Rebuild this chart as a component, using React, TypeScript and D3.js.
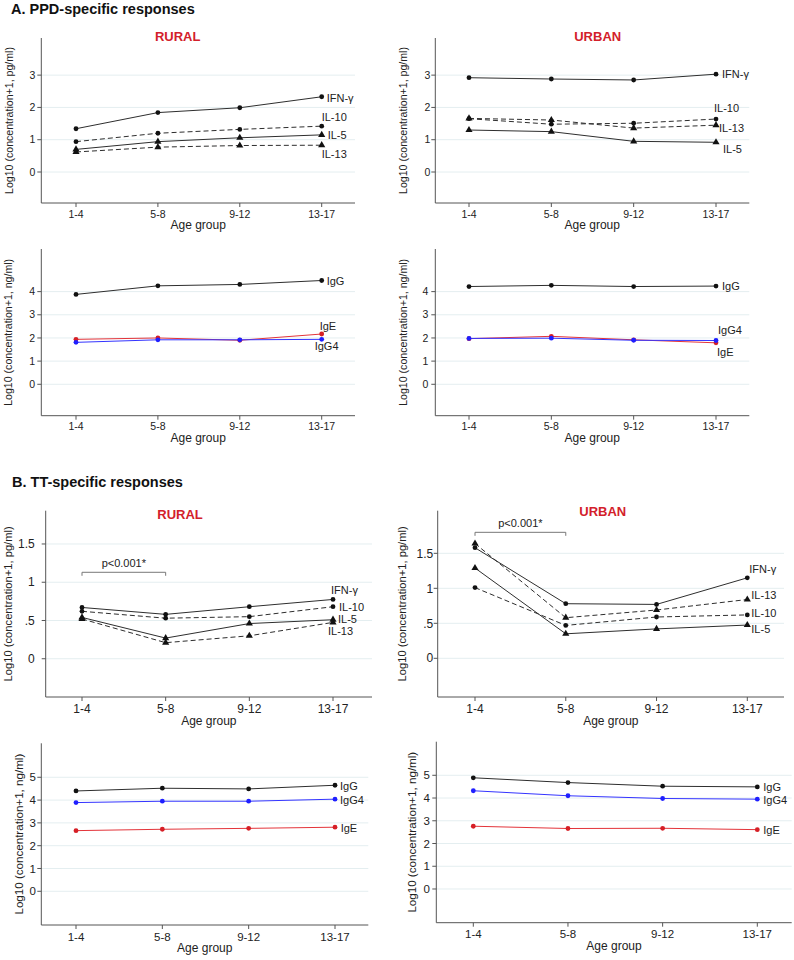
import React from "react";
import * as d3 from "d3";

const ageGroups = ["1-4", "5-8", "9-12", "13-17"];

// A. PPD-specific, rural, cytokines (log10 pg/ml)
const ppdRuralIFNg = [1.34, 1.84, 1.99, 2.33];
const ppdRuralIL10 = [0.94, 1.2, 1.32, 1.42];
const ppdRuralIL5 = [0.7, 0.94, 1.06, 1.15];
const ppdRuralIL13 = [0.62, 0.77, 0.82, 0.83];

// A. PPD-specific, urban, cytokines
const ppdUrbanIFNg = [2.92, 2.88, 2.85, 3.03];
const ppdUrbanIL10 = [1.65, 1.48, 1.51, 1.64];
const ppdUrbanIL13 = [1.66, 1.61, 1.36, 1.45];
const ppdUrbanIL5 = [1.3, 1.25, 0.95, 0.92];

// A. PPD-specific, rural, antibodies (log10 ng/ml)
const ppdRuralIgG = [3.88, 4.25, 4.31, 4.48];
const ppdRuralIgE = [1.94, 2.0, 1.9, 2.17];
const ppdRuralIgG4 = [1.81, 1.92, 1.92, 1.94];

// A. PPD-specific, urban, antibodies
const ppdUrbanIgG = [4.22, 4.27, 4.22, 4.24];
const ppdUrbanIgE = [1.97, 2.07, 1.92, 1.79];
const ppdUrbanIgG4 = [1.98, 1.99, 1.9, 1.89];

// B. TT-specific, rural, cytokines
const ttRuralIFNg = [0.67, 0.58, 0.68, 0.775];
const ttRuralIL10 = [0.62, 0.53, 0.55, 0.68];
const ttRuralIL5 = [0.54, 0.27, 0.46, 0.51];
const ttRuralIL13 = [0.52, 0.21, 0.3, 0.475];

// B. TT-specific, urban, cytokines
const ttUrbanIFNg = [1.58, 0.78, 0.77, 1.15];
const ttUrbanIL13 = [1.64, 0.58, 0.69, 0.84];
const ttUrbanIL10 = [1.01, 0.47, 0.59, 0.62];
const ttUrbanIL5 = [1.29, 0.35, 0.42, 0.475];

// B. TT-specific, rural, antibodies
const ttRuralIgG = [4.4, 4.52, 4.49, 4.65];
const ttRuralIgG4 = [3.89, 3.95, 3.95, 4.04];
const ttRuralIgE = [2.66, 2.72, 2.76, 2.81];

// B. TT-specific, urban, antibodies
const ttUrbanIgG = [4.89, 4.68, 4.52, 4.49];
const ttUrbanIgG4 = [4.32, 4.1, 3.98, 3.95];
const ttUrbanIgE = [2.76, 2.66, 2.67, 2.61];

// Axis ticks
const ticksPPDCyto = [0, 1, 2, 3];
const ticksPPDIg = [0, 1, 2, 3, 4];
const ticksTTCyto = [0, 0.5, 1, 1.5];
const tickLabelsTTCyto = ["0", ".5", "1", "1.5"];
const ticksTTIg = [0, 1, 2, 3, 4, 5];

const sectionTitles = ["A. PPD-specific responses", "B. TT-specific responses"];
const pValueText = "p<0.001*";
const yLabelPg = "Log10 (concentration+1, pg/ml)";
const yLabelNg = "Log10 (concentration+1, ng/ml)";
const xLabel = "Age group";

const FONT = "'Liberation Sans', Arial, Helvetica, sans-serif";
const LINE_DARK = "#2e2e2e";
const MARK_DARK = "#111";
const RED = "#e3343a";
const RED_MARK = "#d61f26";
const BLUE = "#3434ff";
const BLUE_MARK = "#1f1fff";
const GRID = "#e4eef0";
const AXIS = "#555";
const TITLE_RED = "#d3202a";

type Series = {
  name: string;
  values: number[];
  line: string;
  mark: string;
  dashed: boolean;
  marker: "circle" | "triangle";
  ldx: number;
  ldy: number;
};

type PanelCfg = {
  left: number;
  right: number;
  top: number;
  bottom: number;
  yMin: number;
  yMax: number;
  xFirst: number;
  xLast: number;
  ticks: number[];
  tickLabels?: string[];
  tickGap: number;
  tickFont: number;
  yLabel: string;
  yLabelX: number;
  yLabelFont: number;
  title?: string;
  titleX?: number;
  titleY?: number;
  bracketLevel?: number;
  series: Series[];
};

const cyto = (
  name: string,
  values: number[],
  dashed: boolean,
  marker: "circle" | "triangle",
  ldx: number,
  ldy: number
): Series => ({ name, values, line: LINE_DARK, mark: MARK_DARK, dashed, marker, ldx, ldy });

const ig = (name: string, values: number[], kind: "G" | "E" | "G4", ldx: number, ldy: number): Series => ({
  name,
  values,
  line: kind === "G" ? LINE_DARK : kind === "E" ? RED : BLUE,
  mark: kind === "G" ? MARK_DARK : kind === "E" ? RED_MARK : BLUE_MARK,
  dashed: false,
  marker: "circle",
  ldx,
  ldy,
});

const panels: PanelCfg[] = [
  {
    left: 41.3, right: 355, top: 38, bottom: 203, yMin: -0.96, yMax: 4.15,
    xFirst: 76, xLast: 321.7, ticks: ticksPPDCyto, tickGap: 6, tickFont: 10.5,
    yLabel: yLabelPg, yLabelX: 9, yLabelFont: 10.6, title: "RURAL", titleX: 177.7, titleY: 41,
    series: [
      cyto("IFN-γ", ppdRuralIFNg, false, "circle", 5, 1.5),
      cyto("IL-10", ppdRuralIL10, true, "circle", 0, -9),
      cyto("IL-5", ppdRuralIL5, false, "triangle", 6, 0.5),
      cyto("IL-13", ppdRuralIL13, true, "triangle", 0, 8.5),
    ],
  },
  {
    left: 435.3, right: 749.3, top: 38, bottom: 203, yMin: -0.96, yMax: 4.15,
    xFirst: 469, xLast: 716, ticks: ticksPPDCyto, tickGap: 5, tickFont: 10.5,
    yLabel: yLabelPg, yLabelX: 403, yLabelFont: 10.6, title: "URBAN", titleX: 597.7, titleY: 41,
    series: [
      cyto("IFN-γ", ppdUrbanIFNg, false, "circle", 6, 0),
      cyto("IL-10", ppdUrbanIL10, true, "circle", -2, -11),
      cyto("IL-13", ppdUrbanIL13, true, "triangle", 3, 3),
      cyto("IL-5", ppdUrbanIL5, false, "triangle", 7, 7),
    ],
  },
  {
    left: 41.3, right: 355, top: 249, bottom: 415.7, yMin: -1.356, yMax: 5.84,
    xFirst: 76, xLast: 321.7, ticks: ticksPPDIg, tickGap: 6.3, tickFont: 10.5,
    yLabel: yLabelNg, yLabelX: 8.5, yLabelFont: 10.6,
    series: [
      ig("IgG", ppdRuralIgG, "G", 5, 0.7),
      ig("IgE", ppdRuralIgE, "E", -2, -8),
      ig("IgG4", ppdRuralIgG4, "G4", -7, 7),
    ],
  },
  {
    left: 435.3, right: 749.3, top: 249, bottom: 415.7, yMin: -1.356, yMax: 5.84,
    xFirst: 469, xLast: 716, ticks: ticksPPDIg, tickGap: 7, tickFont: 10.5,
    yLabel: yLabelNg, yLabelX: 403, yLabelFont: 10.6,
    series: [
      ig("IgG", ppdUrbanIgG, "G", 6, 0),
      ig("IgE", ppdUrbanIgE, "E", 1, 9),
      ig("IgG4", ppdUrbanIgG4, "G4", 2, -10),
    ],
  },
  {
    left: 45.7, right: 372, top: 510.7, bottom: 697, yMin: -0.5, yMax: 1.935,
    xFirst: 82, xLast: 333, ticks: ticksTTCyto, tickLabels: tickLabelsTTCyto, tickGap: 11, tickFont: 12,
    yLabel: yLabelPg, yLabelX: 8.5, yLabelFont: 11.2, title: "RURAL", titleX: 180, titleY: 518.5,
    bracketLevel: 1.13,
    series: [
      cyto("IFN-γ", ttRuralIFNg, false, "circle", -2, -9),
      cyto("IL-10", ttRuralIL10, true, "circle", 6, 0),
      cyto("IL-5", ttRuralIL5, false, "triangle", 5, -1),
      cyto("IL-13", ttRuralIL13, true, "triangle", -5, 9),
    ],
  },
  {
    left: 437.7, right: 784, top: 510.7, bottom: 697, yMin: -0.553, yMax: 2.109,
    xFirst: 475, xLast: 747.3, ticks: ticksTTCyto, tickLabels: tickLabelsTTCyto, tickGap: 4.5, tickFont: 12,
    yLabel: yLabelPg, yLabelX: 402.5, yLabelFont: 11.2, title: "URBAN", titleX: 602.8, titleY: 516,
    bracketLevel: 1.8,
    series: [
      cyto("IFN-γ", ttUrbanIFNg, false, "circle", 2, -9),
      cyto("IL-13", ttUrbanIL13, true, "triangle", 4, -4),
      cyto("IL-10", ttUrbanIL10, true, "circle", 4, -1.5),
      cyto("IL-5", ttUrbanIL5, false, "triangle", 4, 4),
    ],
  },
  {
    left: 41.3, right: 368.3, top: 743.3, bottom: 925, yMin: -1.478, yMax: 6.49,
    xFirst: 76, xLast: 335, ticks: ticksTTIg, tickGap: 5.5, tickFont: 11.5,
    yLabel: yLabelNg, yLabelX: 19, yLabelFont: 11.6,
    series: [
      ig("IgG", ttRuralIgG, "G", 5, 0.7),
      ig("IgG4", ttRuralIgG4, "G4", 5, 0.7),
      ig("IgE", ttRuralIgE, "E", 5.7, 1),
    ],
  },
  {
    left: 436.3, right: 791.7, top: 741.7, bottom: 922.7, yMin: -1.482, yMax: 6.477,
    xFirst: 473.3, xLast: 757.3, ticks: ticksTTIg, tickGap: 6.3, tickFont: 11.5,
    yLabel: yLabelNg, yLabelX: 412, yLabelFont: 11.6,
    series: [
      ig("IgG", ttUrbanIgG, "G", 6, 0.7),
      ig("IgG4", ttUrbanIgG4, "G4", 6, 0.7),
      ig("IgE", ttUrbanIgE, "E", 6, 1),
    ],
  },
];

const triPath = d3.symbol().type(d3.symbolTriangle).size(22)() || "";

function Panel({ p }: { p: PanelCfg }) {
  const x = d3.scalePoint<string>().domain(ageGroups).range([p.xFirst, p.xLast]).padding(0);
  const y = d3.scaleLinear().domain([p.yMin, p.yMax]).range([p.bottom, p.top]);
  const line = d3
    .line<number>()
    .x((_, i) => x(ageGroups[i]) as number)
    .y((d) => y(d));
  const tickBase = p.bottom + 4 + p.tickFont;
  const midY = (p.top + p.bottom) / 2;
  const lastX = x(ageGroups[ageGroups.length - 1]) as number;
  return (
    <g>
      {p.ticks.map((t) => (
        <line key={"g" + t} x1={p.left} x2={p.right} y1={y(t)} y2={y(t)} stroke={GRID} strokeWidth={1} />
      ))}
      <line x1={p.left} x2={p.left} y1={p.top} y2={p.bottom} stroke={AXIS} strokeWidth={1} />
      <line x1={p.left} x2={p.right} y1={p.bottom} y2={p.bottom} stroke={AXIS} strokeWidth={1} />
      {p.ticks.map((t, i) => (
        <g key={"t" + t}>
          <line x1={p.left - 4} x2={p.left} y1={y(t)} y2={y(t)} stroke={AXIS} />
          <text
            x={p.left - p.tickGap}
            y={y(t)}
            dy="0.35em"
            textAnchor="end"
            fontSize={p.tickFont}
            fill="#222"
          >
            {p.tickLabels ? p.tickLabels[i] : String(t)}
          </text>
        </g>
      ))}
      {ageGroups.map((a) => (
        <g key={"x" + a}>
          <line x1={x(a)} x2={x(a)} y1={p.bottom} y2={p.bottom + 4} stroke={AXIS} />
          <text x={x(a)} y={tickBase} textAnchor="middle" fontSize={p.tickFont} fill="#222">
            {a}
          </text>
        </g>
      ))}
      <text x={(p.left + p.right) / 2} y={tickBase + 11.5} textAnchor="middle" fontSize={12} fill="#222">
        {xLabel}
      </text>
      <text
        transform={`translate(${p.yLabelX},${midY}) rotate(-90)`}
        textAnchor="middle"
        dy="0.35em"
        fontSize={p.yLabelFont}
        fill="#222"
      >
        {p.yLabel}
      </text>
      {p.title && (
        <text x={p.titleX} y={p.titleY} textAnchor="middle" fontSize={13} fontWeight="bold" fill={TITLE_RED}>
          {p.title}
        </text>
      )}
      {p.bracketLevel !== undefined && (
        <g>
          <path
            d={`M${x(ageGroups[0])},${y(p.bracketLevel) + 3.5}V${y(p.bracketLevel)}H${x(ageGroups[1])}V${
              y(p.bracketLevel) + 3.5
            }`}
            fill="none"
            stroke="#777"
            strokeWidth={1}
          />
          <text
            x={((x(ageGroups[0]) as number) + (x(ageGroups[1]) as number)) / 2}
            y={y(p.bracketLevel) - 5}
            textAnchor="middle"
            fontSize={11}
            fill="#222"
          >
            {pValueText}
          </text>
        </g>
      )}
      {p.series.map((s) => (
        <g key={s.name}>
          <path
            d={line(s.values) || ""}
            fill="none"
            stroke={s.line}
            strokeWidth={1}
            strokeDasharray={s.dashed ? "5,3" : undefined}
          />
          {s.values.map((v, i) =>
            s.marker === "circle" ? (
              <circle key={i} cx={x(ageGroups[i])} cy={y(v)} r={2.4} fill={s.mark} />
            ) : (
              <path key={i} d={triPath} transform={`translate(${x(ageGroups[i])},${y(v)})`} fill={s.mark} />
            )
          )}
          <text
            x={lastX + s.ldx}
            y={y(s.values[s.values.length - 1]) + s.ldy}
            dy="0.35em"
            fontSize={11}
            fill="#222"
          >
            {s.name}
          </text>
        </g>
      ))}
    </g>
  );
}

export default function App() {
  return (
    <svg
      width={794}
      height={960}
      viewBox="0 0 794 960"
      style={{ position: "absolute", left: 0, top: 0, background: "#fff" }}
      fontFamily={FONT}
    >
      <rect width={794} height={960} fill="#fff" />
      <text x={11} y={14} fontSize={14.5} fontWeight="bold" fill="#111">
        {sectionTitles[0]}
      </text>
      <text x={12} y={487} fontSize={14.5} fontWeight="bold" fill="#111">
        {sectionTitles[1]}
      </text>
      {panels.map((p, i) => (
        <Panel key={i} p={p} />
      ))}
    </svg>
  );
}
